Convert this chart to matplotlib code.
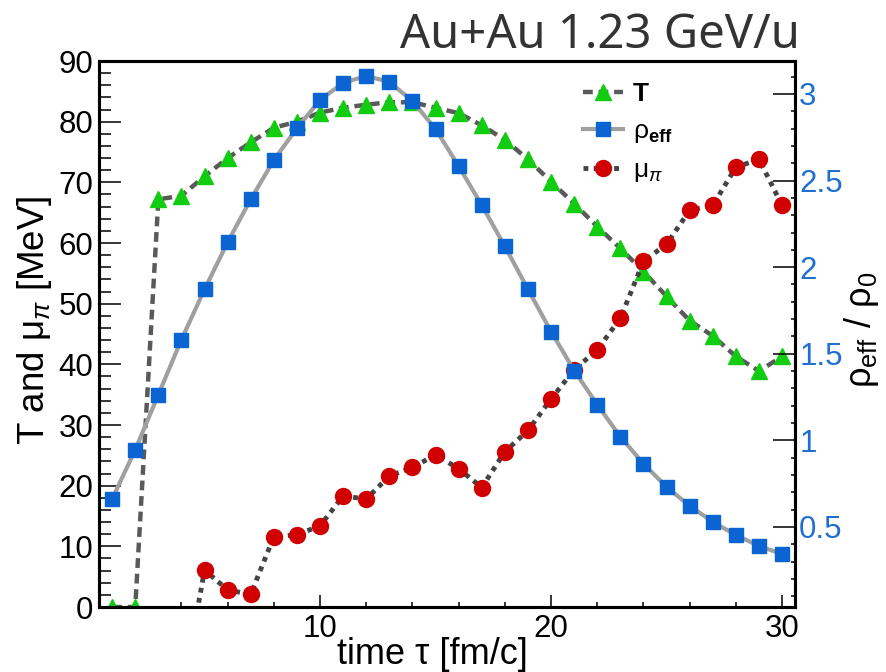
import numpy as np
import matplotlib
matplotlib.use("Agg")
import matplotlib.pyplot as plt
from matplotlib.ticker import MultipleLocator

plt.rcParams["font.family"] = ["Liberation Sans", "DejaVu Sans"]
plt.rcParams["mathtext.fontset"] = "custom"
plt.rcParams["mathtext.rm"] = "Liberation Sans"
plt.rcParams["mathtext.it"] = "Liberation Sans:italic"
plt.rcParams["mathtext.bf"] = "Liberation Sans:bold"

### DATA ###
tau = np.arange(1, 31)
temp = [0, 0, 67.2, 67.8, 71.0, 74.0, 76.6, 79.0, 80.0, 81.5,
        82.3, 82.8, 83.2, 83.2, 82.3, 81.4, 79.4, 77.0, 73.8, 70.1,
        66.5, 62.7, 59.1, 55.3, 51.2, 47.2, 44.7, 41.3, 38.9, 41.3]
rho_eff = [0.662, 0.946, 1.264, 1.582, 1.872, 2.144, 2.392, 2.618, 2.803, 2.965,
           3.064, 3.104, 3.069, 2.959, 2.797, 2.583, 2.358, 2.120, 1.872, 1.628,
           1.403, 1.206, 1.021, 0.865, 0.731, 0.622, 0.529, 0.454, 0.390, 0.344]
tau_mu = np.arange(4, 31)
mu_pi = [-15, 6.1, 2.8, 2.1, 11.6, 11.9, 13.4, 18.3, 17.8, 21.6,
         23.0, 25.1, 22.8, 19.7, 25.6, 29.1, 34.3, 39.1, 42.4, 47.6,
         57.0, 59.8, 65.4, 66.2, 72.5, 73.8, 66.2]

green = "#11cc11"
blue = "#0a64d2"
red = "#d00000"
axblue = "#1f6fd1"

### PLOTTING ###
fig = plt.figure(figsize=(8.87, 6.72), dpi=100)
ax = fig.add_axes([0.1116, 0.0967, 0.7847, 0.8125])
ax2 = ax.twinx()

lT, = ax.plot(tau, temp, linestyle=(0, (2.2, 1.3)), lw=3.2, color="#5a5a5a",
              marker="^", ms=12, mfc=green, mec=green, label="T")
lmu, = ax.plot(tau_mu, mu_pi, linestyle=(0, (1, 1.1)), lw=3.5, color="#444444",
               marker="o", ms=11.5, mfc=red, mec=red, label=r"$\mathrm{\mu}_{\pi}$")
lrho, = ax2.plot(tau, rho_eff, linestyle="-", lw=3, color="#a0a0a0",
                 marker="s", ms=10, mfc=blue, mec=blue,
                 label=r"$\mathrm{\rho}_{\mathbf{eff}}$")

ax.set_xlim(0.43, 30.56)
ax.set_ylim(0, 90)
ax2.set_ylim(0.038, 3.19)

ax.xaxis.set_major_locator(MultipleLocator(10))
ax.xaxis.set_minor_locator(MultipleLocator(2))
ax.yaxis.set_major_locator(MultipleLocator(10))
ax.yaxis.set_minor_locator(MultipleLocator(2))
ax2.yaxis.set_major_locator(MultipleLocator(0.5))
ax2.yaxis.set_minor_locator(MultipleLocator(0.1))
ax2.yaxis.set_major_formatter(plt.FuncFormatter(lambda v, p: "%g" % v))

ax.tick_params(axis="y", which="major", direction="in", length=15.8, width=1.1,
               labelsize=22.5, pad=4, right=False)
ax.tick_params(axis="y", which="minor", direction="in", length=8.6, width=1.1, right=False)
ax.tick_params(axis="x", which="major", direction="in", length=8.6, width=1.1,
               labelsize=22.5, pad=5, top=False)
ax.tick_params(axis="x", which="minor", direction="in", length=3.6, width=1.1, top=False)
ax2.tick_params(axis="y", which="major", direction="in", length=15.8, width=1.1,
                labelsize=22.5, pad=3, labelcolor=axblue)
ax2.tick_params(axis="y", which="minor", direction="in", length=3, width=1.1)

for a in (ax, ax2):
    for s in a.spines.values():
        s.set_linewidth(2.2)

fig.text(35 / 887, 1 - 320 / 672, r"T and $\mathrm{\mu}_{\pi}$ [MeV]", rotation=90,
         ha="center", va="center", fontsize=26.5)
fig.text(432 / 887, 1 - 655 / 672, "time τ [fm/c]", ha="center", va="center", fontsize=26)
fig.text(862 / 887, 1 - 330 / 672, r"$\mathrm{\rho}_{\mathrm{eff}}$ / $\mathrm{\rho}_{0}$",
         rotation=90, ha="center", va="center", fontsize=26)
fig.text(800 / 887, 1 - 48 / 672, "Au+Au 1.23 GeV/u", ha="right", va="baseline",
         fontsize=34, color="#333333", family="Noto Sans", fontweight="light")

leg = ax2.legend(handles=[lT, lrho, lmu], loc="upper left",
                 bbox_to_anchor=(583 / 887, 1 - 82 / 672), bbox_transform=fig.transFigure,
                 frameon=False, fontsize=19, handlelength=1.5, handletextpad=0.4,
                 labelspacing=0.5, borderaxespad=0, borderpad=0)
leg.get_texts()[0].set_fontweight("bold")

fig.savefig("out.png", dpi=100)
